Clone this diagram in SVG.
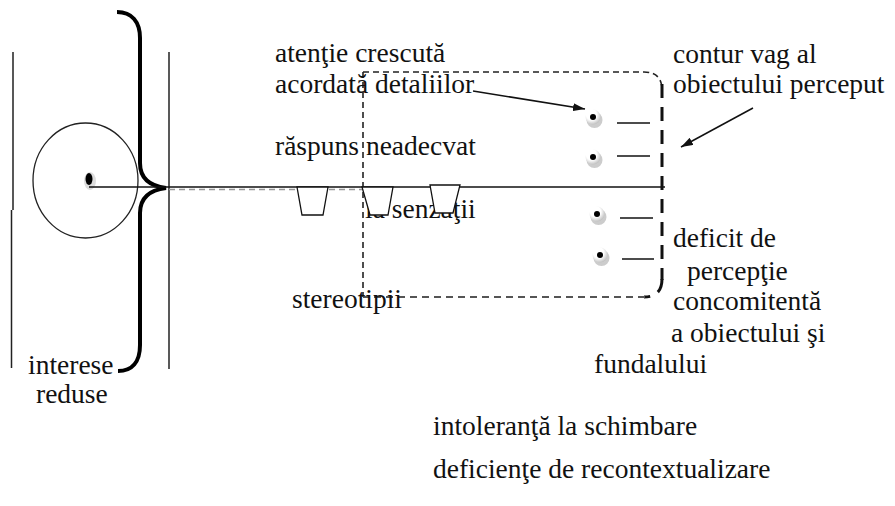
<svg xmlns="http://www.w3.org/2000/svg" width="895" height="506" viewBox="0 0 895 506">
<style>
.t{font-family:"Liberation Serif","Times New Roman",serif;font-size:27.5px;fill:#111}
.ln{stroke:#222;stroke-width:1.5;fill:none}
.trap{fill:#fff;stroke:#111;stroke-width:1.3}
.thin{stroke:#222;stroke-width:1.6;fill:none;stroke-dasharray:6 4}
.thick{stroke:#111;stroke-width:3;fill:none;stroke-dasharray:14 9}
.gray{stroke:#555;stroke-width:2;fill:none;stroke-dasharray:7 5}
.dash{stroke:#111;stroke-width:1.5}
</style>
<defs>
<marker id="ah" viewBox="0 0 12 8" refX="12" refY="4" markerWidth="12" markerHeight="8" markerUnits="userSpaceOnUse" orient="auto">
<path d="M0,0 L12,4 L0,8 Z" fill="#111"/>
</marker>
<radialGradient id="bg" cx="0.4" cy="0.35" r="0.7">
<stop offset="0.5" stop-color="#fff"/>
<stop offset="1" stop-color="#bbb"/>
</radialGradient>
<g id="bul">
<circle cx="1.5" cy="3" r="8" fill="#ccc"/>
<circle cx="0" cy="0" r="7.5" fill="url(#bg)"/>
<circle cx="0" cy="0" r="3" fill="#000"/>
</g>
</defs>

<g id="frame">
<path class="ln" d="M13,52 L13,210 M11.5,210 L11.5,368"/>
<path class="ln" d="M169,52 L169,369"/>
</g>

<g id="cell">
<ellipse cx="85.5" cy="180.5" rx="52.5" ry="57.5" fill="none" stroke="#222" stroke-width="1.3"/>
<ellipse cx="90" cy="181" rx="6" ry="9" fill="#ddd"/>
<ellipse cx="89" cy="179" rx="3.5" ry="6" fill="#000"/>
</g>

<g id="brace">
<path d="M117,12 C132,12 140,22 140,38 L140,163 C140,178 150,186 166,188 C150,190 140,198 140,213 L140,345 C140,362 132,371 118,371" fill="none" stroke="#000" stroke-width="4"/>
</g>

<g id="connectors">
<line x1="89" y1="187" x2="665" y2="187" stroke="#111" stroke-width="1.5"/>
<line x1="169" y1="189.5" x2="363" y2="189.5" stroke="#999" stroke-width="1.5" stroke-dasharray="6 4"/>
<line x1="473" y1="91" x2="585" y2="109" stroke="#111" stroke-width="1.5" marker-end="url(#ah)"/>
<line x1="753" y1="108" x2="681" y2="147" stroke="#111" stroke-width="1.5" marker-end="url(#ah)"/>
</g>

<g id="box">
<path class="thin" d="M363,72 L644,72 Q662,72 662,90"/>
<path class="thin" d="M363,72 L363,297"/>
<path class="thick" d="M662,84 L662,280"/>
<path class="thick" d="M662,279 Q662,297 644,297" stroke-dasharray="none" stroke-width="2.5"/>
<path class="gray" d="M645,297 L363,297"/>
</g>

<g id="texts" font-family="Liberation Serif, serif">
<text class="t" x="275" y="62">atenţie crescută</text>
<text class="t" x="275" y="93">acordată detaliilor</text>
<text class="t" x="275" y="155">răspuns neadecvat</text>
<text class="t" x="365" y="218">la senzaţii</text>
<text class="t" x="292" y="308">stereotipii</text>
<text class="t" x="673" y="63">contur vag al</text>
<text class="t" x="673" y="93">obiectului perceput</text>
<text class="t" x="673" y="247">deficit de</text>
<text class="t" x="687" y="280">percepţie</text>
<text class="t" x="673" y="310">concomitentă</text>
<text class="t" x="671" y="342">a obiectului şi</text>
<text class="t" x="594" y="373">fundalului</text>
<text class="t" x="28" y="374">interese</text>
<text class="t" x="36" y="403">reduse</text>
<text class="t" x="433" y="435">intoleranţă la schimbare</text>
<text class="t" x="433" y="478">deficienţe de recontextualizare</text>
</g>

<g id="traps">
<path class="trap" d="M297,187 L328,187 L323,215 L302,215 Z"/>
<path class="trap" d="M362,187 L393,187 L388,215 L370,215 Z"/>
<path class="trap" d="M430,185 L460,185 L453,213 L435,213 Z"/>
</g>

<g id="bullets">
<use href="#bul" x="593" y="117"/>
<use href="#bul" x="593" y="157"/>
<use href="#bul" x="597" y="214"/>
<use href="#bul" x="600" y="255"/>
<line class="dash" x1="617" y1="123" x2="650" y2="123"/>
<line class="dash" x1="617" y1="156" x2="650" y2="156"/>
<line class="dash" x1="620" y1="218" x2="653" y2="218"/>
<line class="dash" x1="622" y1="259" x2="654" y2="259"/>
</g>
</svg>
